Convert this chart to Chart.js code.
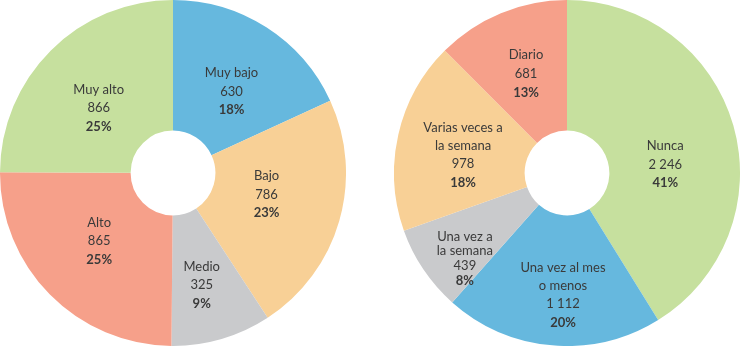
<!DOCTYPE html>
<html>
<head>
<meta charset="utf-8">
<script src="https://cdn.jsdelivr.net/npm/chart.js@4/dist/chart.umd.min.js"></script>
<style>
  html, body { margin: 0; padding: 0; background: #fff; }
  #wrap { position: relative; width: 740px; height: 348px; }
  .box { position: absolute; top: 0; width: 346px; height: 346px; }
</style>
</head>
<body>
<div id="wrap">
  <div class="box" style="left:0px"><canvas id="chart-left"></canvas></div>
  <div class="box" style="left:394px"><canvas id="chart-right"></canvas></div>
</div>
<script>
// Datos - gráfico izquierdo
const leftLabels = [['Muy bajo'], ['Bajo'], ['Medio'], ['Alto'], ['Muy alto']];
const leftValues = [630, 786, 325, 865, 866];
const leftPercents = [18, 23, 9, 25, 25];

// Datos - gráfico derecho
const rightLabels = [['Nunca'], ['Una vez al mes', 'o menos'], ['Una vez a', 'la semana'], ['Varias veces a', 'la semana'], ['Diario']];
const rightValues = [2246, 1112, 439, 978, 681];
const rightPercents = [41, 20, 8, 18, 13];

const leftColors = ['#66B8DE', '#F8D096', '#C9CACC', '#F6A08A', '#C6E09E'];
const rightColors = ['#C6E09E', '#66B8DE', '#C9CACC', '#F8D096', '#F6A08A'];

// posición de etiquetas: [factor de radio, desplazamiento de ángulo (grados), interlineado]
const leftLabelPos = [[0.58, 3, 18.5], [0.555, -3, 18.5], [0.67, 2, 18.5], [0.58, 2, 18.5], [0.57, -4, 18.5]];
const rightLabelPos = [[0.57, 11, 18.5], [0.705, -3, 18.3], [0.77, -6, 14.7], [0.61, -3, 18.3], [0.62, 0, 19]];

const fmt = (v) => String(v).replace(/\B(?=(\d{3})+(?!\d))/g, ' ');

const sliceLabels = {
    id: 'sliceLabels',
    afterDatasetsDraw(chart, args, opts) {
        const ctx = chart.ctx;
        const meta = chart.getDatasetMeta(0);
        const values = chart.data.datasets[0].data;
        ctx.save();
        ctx.textAlign = 'center';
        ctx.textBaseline = 'middle';
        ctx.fillStyle = '#3a3a3a';
        meta.data.forEach((arc, i) => {
            const p = opts.pos[i];
            const mid = (arc.startAngle + arc.endAngle) / 2 + p[1] * Math.PI / 180;
            const r = arc.outerRadius * p[0];
            const x = arc.x + Math.cos(mid) * r;
            const y = arc.y + Math.sin(mid) * r;
            const lines = opts.labels[i].map(t => ({ t, bold: false }));
            lines.push({ t: fmt(values[i]), bold: false });
            lines.push({ t: opts.percents[i] + '%', bold: true });
            const lh = p[2];
            const y0 = y - (lines.length - 1) * lh / 2;
            lines.forEach((ln, k) => {
                ctx.font = (ln.bold ? 'bold ' : '') + '13px Lato';
                ctx.fillText(ln.t, x, y0 + k * lh);
            });
        });
        ctx.restore();
    }
};

function makeDoughnut(id, values, colors, labels, percents, pos) {
    const ctx = document.getElementById(id).getContext('2d');
    return new Chart(ctx, {
        type: 'doughnut',
        data: {
            labels: labels.map(l => l.join(' ')),
            datasets: [{
                data: values,
                backgroundColor: colors,
                borderWidth: 0
            }]
        },
        options: {
            responsive: true,
            maintainAspectRatio: false,
            animation: false,
            cutout: '24.5%',
            layout: { padding: 0 },
            plugins: {
                legend: { display: false },
                tooltip: { enabled: false },
                sliceLabels: { labels, percents, pos }
            }
        },
        plugins: [sliceLabels]
    });
}

makeDoughnut('chart-left', leftValues, leftColors, leftLabels, leftPercents, leftLabelPos);
makeDoughnut('chart-right', rightValues, rightColors, rightLabels, rightPercents, rightLabelPos);
</script>
</body>
</html>
